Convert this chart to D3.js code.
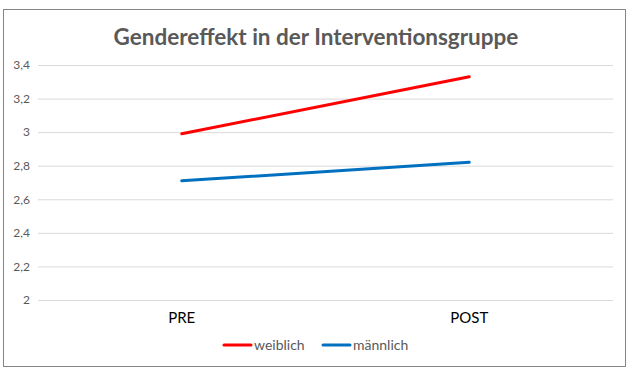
<!DOCTYPE html>
<html>
<head>
<meta charset="utf-8">
<script src="https://cdn.jsdelivr.net/npm/d3@7"></script>
<style>
  body { margin: 0; background: #fff; }
  svg text { font-family: Lato, "Open Sans", sans-serif; }
</style>
</head>
<body>
<div id="container"></div>
<script>
const categories = ["PRE", "POST"];
const weiblich = [2.99, 3.33];
const maennlich = [2.71, 2.82];
const yTicks = [2, 2.2, 2.4, 2.6, 2.8, 3, 3.2, 3.4];

const series = [
  {name: "weiblich", values: weiblich, color: "#ff0000"},
  {name: "männlich", values: maennlich, color: "#0070c0"}
];

const width = 634, height = 372;
const margin = {top: 65, right: 21, bottom: 72, left: 38};

const svg = d3.select("#container")
  .append("svg")
  .attr("width", width)
  .attr("height", height);

// chart frame
svg.append("rect")
  .attr("x", 3.5)
  .attr("y", 9.5)
  .attr("width", 622)
  .attr("height", 357)
  .attr("fill", "#fff")
  .attr("stroke", "#868686")
  .attr("stroke-width", 1);

svg.append("text")
  .attr("x", 316)
  .attr("y", 45)
  .attr("text-anchor", "middle")
  .style("font-size", "22.5px")
  .style("font-weight", "bold")
  .style("fill", "#595959")
  .text("Gendereffekt in der Interventionsgruppe");

const x = d3.scaleBand()
  .domain(categories)
  .range([margin.left, width - margin.right]);

const y = d3.scaleLinear()
  .domain([2, 3.4])
  .range([height - margin.bottom, margin.top]);

// gridlines + y labels
const yAxis = svg.append("g")
  .attr("transform", `translate(${margin.left},0)`)
  .call(d3.axisLeft(y)
    .tickValues(yTicks)
    .tickSize(-(width - margin.right - margin.left))
    .tickPadding(8)
    .tickFormat(d => d3.format(".1~f")(d).replace(".", ",")));
yAxis.select(".domain").remove();
yAxis.selectAll(".tick line").attr("stroke", "#d9d9d9");
yAxis.selectAll(".tick text")
  .style("font-size", "12px")
  .style("fill", "#595959");

// category labels
const xAxis = svg.append("g")
  .attr("transform", `translate(0,${y(2)})`)
  .call(d3.axisBottom(x).tickSize(0).tickPadding(12));
xAxis.select(".domain").remove();
xAxis.selectAll(".tick text")
  .style("font-size", "15px")
  .style("fill", "#000");

const line = d3.line()
  .x((d, i) => x(categories[i]) + x.bandwidth() / 2)
  .y(d => y(d));

series.forEach(s => {
  svg.append("path")
    .datum(s.values)
    .attr("fill", "none")
    .attr("stroke", s.color)
    .attr("stroke-width", 3)
    .attr("stroke-linecap", "round")
    .attr("d", line);
});

// legend
const legendX = [224, 323];
const legend = svg.append("g").attr("transform", "translate(0,345)");
series.forEach((s, i) => {
  const item = legend.append("g").attr("transform", `translate(${legendX[i]},0)`);
  item.append("line")
    .attr("x1", 0).attr("x2", 27)
    .attr("stroke", s.color)
    .attr("stroke-width", 3)
    .attr("stroke-linecap", "round");
  item.append("text")
    .attr("x", 30)
    .attr("dy", "0.35em")
    .style("font-size", "14px")
    .style("fill", "#595959")
    .text(s.name);
});
</script>
</body>
</html>
